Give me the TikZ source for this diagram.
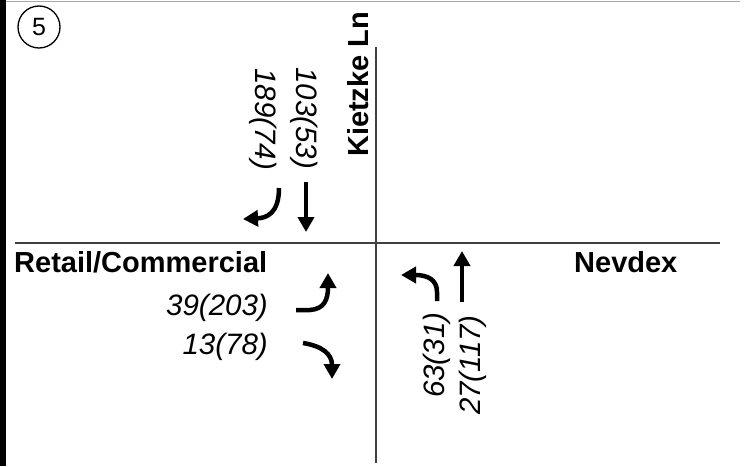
\documentclass[tikz,border=0pt]{standalone}
\usepackage{fontspec}
\setmainfont{Liberation Sans}
\usetikzlibrary{arrows.meta}
\begin{document}
\begin{tikzpicture}[x=1pt,y=-1pt,
  road/.style={draw=black!75, line width=2.2pt},
  mvt/.style={line width=4.5pt, -{Triangle[width=16pt,length=15pt]}},
  street/.style={font=\fontsize{29}{29}\selectfont\bfseries, inner sep=0pt},
  vol/.style={font=\fontsize{29.5}{30}\selectfont\itshape, inner sep=0pt}]
\useasboundingbox (0,0) rectangle (751,466);
\fill[white] (0,0) rectangle (751,466);
% frame
\fill[black] (0,0) rectangle (6,466);
\draw[black!35, line width=1.5pt] (6,1.5) -- (740,1.5);
% roads
\coordinate (hw) at (15,243);
\coordinate (he) at (720,243);
\coordinate (vn) at (376,47);
\coordinate (vs) at (376,463);
\draw[road] (hw) -- (he);
\draw[road] (vn) -- (vs);
% number badge
\node[draw, circle, line width=1.3pt, minimum size=42pt, inner sep=0pt,
      font=\fontsize{25}{25}\selectfont] (num) at (39,27) {5};
% street names
\node[street, rotate=90, anchor=base west] (kietzke) at (368,157) {Kietzke Ln};
\node[street, anchor=base west] (retail) at (14,272) {Retail/Commercial};
\node[street, anchor=base west] (nevdex) at (574,272) {Nevdex};
% volumes
\node[vol, rotate=-90, anchor=base west] (sbt) at (296,67) {103(53)};
\node[vol, rotate=-90, anchor=base west] (sbr) at (255,68) {189(74)};
\node[vol, anchor=base east] (ebl) at (268,315) {39(203)};
\node[vol, anchor=base east] (ebr) at (268,354) {13(78)};
\node[vol, rotate=90, anchor=base west] (nbl) at (444,398) {63(31)};
\node[vol, rotate=90, anchor=base west] (nbt) at (480,415) {27(117)};
% movement arrows
\coordinate (sbtA) at (306,182);
\coordinate (sbtB) at (306,232);
\draw[mvt] (sbtA) -- (sbtB);
\coordinate (sbrA) at (279,188);
\coordinate (sbrB) at (243,219);
\draw[mvt] (sbrA) .. controls (279,214) and (266,218) .. (sbrB);
\coordinate (eblA) at (296,310);
\coordinate (eblB) at (328,273);
\draw[mvt] (eblA) -- (310,310) .. controls (324,309) and (328,300) .. (eblB);
\coordinate (ebrA) at (303,343);
\coordinate (ebrB) at (332,379);
\draw[mvt] (ebrA) .. controls (322,346) and (332,354) .. (ebrB);
\coordinate (nblA) at (437,301);
\coordinate (nblB) at (401,275);
\draw[mvt] (nblA) -- (437,292) .. controls (437,280) and (428,275) .. (nblB);
\coordinate (nbtA) at (462,302);
\coordinate (nbtB) at (462,251);
\draw[mvt] (nbtA) -- (nbtB);
\end{tikzpicture}
\end{document}
